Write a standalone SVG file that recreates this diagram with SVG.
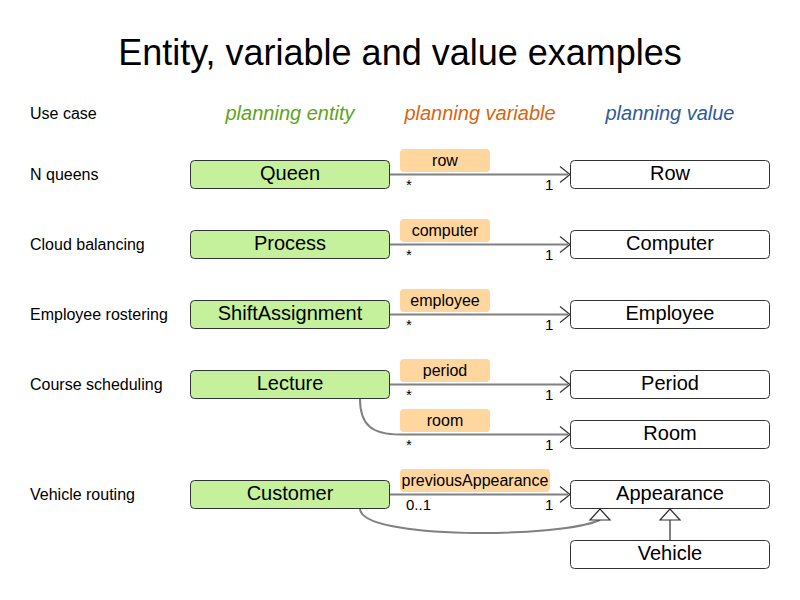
<svg xmlns="http://www.w3.org/2000/svg" width="800" height="600" viewBox="0 0 800 600">
<style>
text{font-family:"Liberation Sans",Arial,sans-serif;fill:#000}
.title{font-size:36px;text-anchor:middle}
.hdr{font-size:20px;font-style:italic;text-anchor:middle}
.case{font-size:16px}
.ent rect{fill:#c5f09c;stroke:#333;stroke-width:1}
.val rect{fill:#fff;stroke:#333;stroke-width:1}
.node text{font-size:20px;text-anchor:middle}
.lbl rect{fill:#fed69e;stroke:none}
.lbl text{font-size:16px;text-anchor:middle}
.conn path{fill:none;stroke:#808080;stroke-width:2}
.mult{font-size:15px}
.arr{fill:none;stroke:#333;stroke-width:1.2}
.tri{fill:#fff;stroke:#333;stroke-width:1.2}
</style>
<rect width="800" height="600" fill="#fff"/>
<text class="title" x="400" y="65">Entity, variable and value examples</text>
<text class="case" x="30" y="119">Use case</text>
<text class="hdr" x="290" y="120" style="fill:#5ea417">planning entity</text>
<text class="hdr" x="480" y="120" style="fill:#d9650f">planning variable</text>
<text class="hdr" x="670" y="120" style="fill:#2e5a9c">planning value</text>

<text class="case" x="30" y="180">N queens</text>
<text class="case" x="30" y="250">Cloud balancing</text>
<text class="case" x="30" y="320">Employee rostering</text>
<text class="case" x="30" y="390">Course scheduling</text>
<text class="case" x="30" y="500">Vehicle routing</text>

<g id="connectors" class="conn">
<path d="M390,174.5 H568"/>
<path d="M390,244.5 H568"/>
<path d="M390,314.5 H568"/>
<path d="M390,384.5 H568"/>
<path d="M360,399 C360,425 372,434.5 400,434.5 H568"/>
<path d="M390,494.5 H568"/>
<path d="M360,509 C362,540 560,538 600,520"/>
<path d="M670,520 V540"/>
</g>
<g id="arrowheads">
<path class="arr" d="M560,166.5 L570,174.5 L560,182.5"/>
<path class="arr" d="M560,236.5 L570,244.5 L560,252.5"/>
<path class="arr" d="M560,306.5 L570,314.5 L560,322.5"/>
<path class="arr" d="M560,376.5 L570,384.5 L560,392.5"/>
<path class="arr" d="M560,426.5 L570,434.5 L560,442.5"/>
<path class="arr" d="M560,486.5 L570,494.5 L560,502.5"/>
<path class="tri" d="M600,509 L610,520 L590,520 Z"/>
<path class="tri" d="M670,509 L680,520 L660,520 Z"/>
</g>

<g id="labels">
<g class="lbl"><rect x="400" y="149" width="90" height="23" rx="4"/><text x="445" y="166">row</text></g>
<g class="lbl"><rect x="400" y="219" width="90" height="23" rx="4"/><text x="445" y="236">computer</text></g>
<g class="lbl"><rect x="400" y="289" width="90" height="23" rx="4"/><text x="445" y="306">employee</text></g>
<g class="lbl"><rect x="400" y="359" width="90" height="23" rx="4"/><text x="445" y="376">period</text></g>
<g class="lbl"><rect x="400" y="409" width="90" height="23" rx="4"/><text x="445" y="426">room</text></g>
<g class="lbl"><rect x="400" y="469" width="150" height="23" rx="4"/><text x="475" y="486">previousAppearance</text></g>
</g>

<g id="multiplicities" class="mult">
<text class="mult" x="406" y="190">*</text><text class="mult" x="545" y="190">1</text>
<text class="mult" x="406" y="260">*</text><text class="mult" x="545" y="260">1</text>
<text class="mult" x="406" y="330">*</text><text class="mult" x="545" y="330">1</text>
<text class="mult" x="406" y="400">*</text><text class="mult" x="545" y="400">1</text>
<text class="mult" x="406" y="450">*</text><text class="mult" x="545" y="450">1</text>
<text class="mult" x="406" y="510">0..1</text><text class="mult" x="545" y="510">1</text>
</g>

<g id="queen" class="node ent"><rect x="190.5" y="160.5" width="199" height="28" rx="4"/><text x="290" y="180">Queen</text></g>
<g id="process" class="node ent"><rect x="190.5" y="230.5" width="199" height="28" rx="4"/><text x="290" y="250">Process</text></g>
<g id="shiftassignment" class="node ent"><rect x="190.5" y="300.5" width="199" height="28" rx="4"/><text x="290" y="320">ShiftAssignment</text></g>
<g id="lecture" class="node ent"><rect x="190.5" y="370.5" width="199" height="28" rx="4"/><text x="290" y="390">Lecture</text></g>
<g id="customer" class="node ent"><rect x="190.5" y="480.5" width="199" height="28" rx="4"/><text x="290" y="500">Customer</text></g>

<g id="row" class="node val"><rect x="570.5" y="160.5" width="199" height="28" rx="4"/><text x="670" y="180">Row</text></g>
<g id="computer" class="node val"><rect x="570.5" y="230.5" width="199" height="28" rx="4"/><text x="670" y="250">Computer</text></g>
<g id="employee" class="node val"><rect x="570.5" y="300.5" width="199" height="28" rx="4"/><text x="670" y="320">Employee</text></g>
<g id="period" class="node val"><rect x="570.5" y="370.5" width="199" height="28" rx="4"/><text x="670" y="390">Period</text></g>
<g id="room" class="node val"><rect x="570.5" y="420.5" width="199" height="28" rx="4"/><text x="670" y="440">Room</text></g>
<g id="appearance" class="node val"><rect x="570.5" y="480.5" width="199" height="28" rx="4"/><text x="670" y="500">Appearance</text></g>
<g id="vehicle" class="node val"><rect x="570.5" y="540.5" width="199" height="28" rx="4"/><text x="670" y="560">Vehicle</text></g>
</svg>
